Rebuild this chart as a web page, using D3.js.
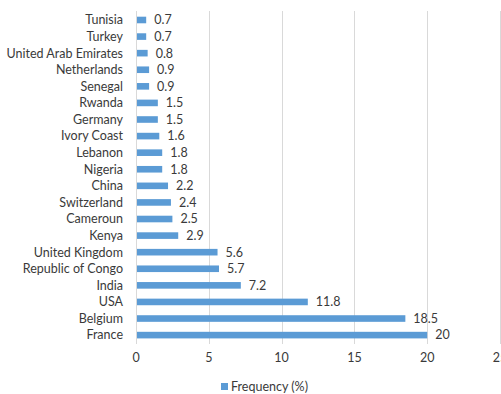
<!DOCTYPE html>
<html>
<head>
<meta charset="utf-8">
<script src="https://cdnjs.cloudflare.com/ajax/libs/d3/7.8.5/d3.min.js"></script>
<style>
  body { margin: 0; background: #fff; }
  text { font-family: Lato, "Open Sans", sans-serif; fill: #3a3a3a; }
</style>
</head>
<body>
<div id="chart"></div>
<script>
// countries top -> bottom
var countries = ["Tunisia", "Turkey", "United Arab Emirates", "Netherlands", "Senegal", "Rwanda", "Germany",
  "Ivory Coast", "Lebanon", "Nigeria", "China", "Switzerland", "Cameroun", "Kenya", "United Kingdom",
  "Republic of Congo", "India", "USA", "Belgium", "France"];
var freq = [0.7, 0.7, 0.8, 0.9, 0.9, 1.5, 1.5, 1.6, 1.8, 1.8, 2.2, 2.4, 2.5, 2.9, 5.6, 5.7, 7.2, 11.8, 18.5, 20];
var ticks = [0, 5, 10, 15, 20, 25];
var seriesName = "Frequency (%)";

var W = 501, H = 394;
var svg = d3.select("#chart").append("svg").attr("width", W).attr("height", H);

var x = d3.scaleLinear().domain([0, 25]).range([136, 500]);
var y = d3.scaleBand().domain(countries).range([11.7, 343.4]).paddingInner(0.6).paddingOuter(0.3);

// gridlines
svg.selectAll("line.grid").data(ticks.slice(1)).enter().append("line")
  .attr("class", "grid")
  .attr("x1", function(d){ return Math.round(x(d)) + 0.5; })
  .attr("x2", function(d){ return Math.round(x(d)) + 0.5; })
  .attr("y1", 11).attr("y2", 344)
  .attr("stroke", "#d9d9d9").attr("stroke-width", 1);

// axis line
svg.append("line")
  .attr("x1", 136.5).attr("x2", 136.5).attr("y1", 11).attr("y2", 344)
  .attr("stroke", "#d9d9d9");

// bars
svg.selectAll("rect.bar").data(freq).enter().append("rect")
  .attr("class", "bar")
  .attr("x", x(0) + 1)
  .attr("y", function(d, i){ return y.bandwidth() / 2 + y(countries[i]) - 3.3; })
  .attr("width", function(d){ return x(d) - x(0) - 1; })
  .attr("height", 6.6)
  .attr("fill", "#5b9bd5");

// value labels
svg.selectAll("text.val").data(freq).enter().append("text")
  .attr("class", "val")
  .attr("x", function(d){ return x(d) + 8; })
  .attr("y", function(d, i){ return y(countries[i]) + y.bandwidth() / 2; })
  .attr("dy", "0.35em")
  .style("font-size", "12.5px")
  .text(function(d){ return d; });

// category labels
svg.selectAll("text.cat").data(countries).enter().append("text")
  .attr("class", "cat")
  .attr("x", 123)
  .attr("y", function(d){ return y(d) + y.bandwidth() / 2; })
  .attr("dy", "0.35em")
  .attr("text-anchor", "end")
  .style("font-size", "12.5px")
  .text(function(d){ return d; });

// x tick labels (the last one runs off the edge, as in the original)
svg.selectAll("text.tick").data(ticks).enter().append("text")
  .attr("class", "tick")
  .attr("x", function(d){ return x(d); })
  .attr("y", 358)
  .attr("dy", "0.35em")
  .attr("text-anchor", "middle")
  .style("font-size", "12.5px")
  .text(function(d){ return d; });

// legend
svg.append("rect").attr("x", 221).attr("y", 383).attr("width", 7).attr("height", 7).attr("fill", "#5b9bd5");
svg.append("text").attr("x", 231).attr("y", 386.5).attr("dy", "0.35em")
  .style("font-size", "12.5px").text(seriesName);
</script>
</body>
</html>
